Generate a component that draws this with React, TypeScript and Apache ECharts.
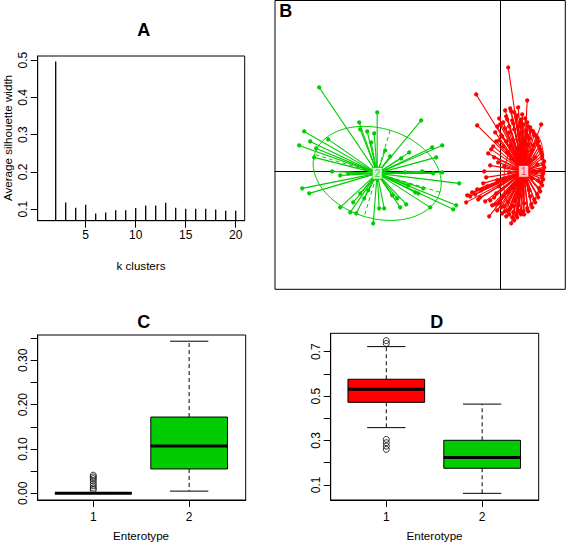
import React, { useEffect, useRef } from 'react';
import * as echarts from 'echarts';

const FONT = '"Liberation Sans", Arial, Helvetica, sans-serif';

// ---------- Panel A : silhouette ----------
const kClusters = [2, 3, 4, 5, 6, 7, 8, 9, 10, 11, 12, 13, 14, 15, 16, 17, 18, 19, 20];
const silhouette = [0.496, 0.118, 0.104, 0.112, 0.088, 0.091, 0.097, 0.097, 0.103, 0.110, 0.110, 0.117, 0.104, 0.101, 0.101, 0.101, 0.099, 0.096, 0.096];
const kTicks = [5, 10, 15, 20];
const silTicks = [0.1, 0.2, 0.3, 0.4, 0.5];

// ---------- Panel B : PCoA clusters ----------
const clusterNames = ['1', '2'];
const clusterColors = ['#FF0000', '#00CC00'];
const clusterCenters = [[0.46, 0.0], [-2.47, -0.04]];
// [cx, cy, semiMajor, semiMinor, angleDeg]
const clusterEllipses = [[0.46, 0.0, 0.84, 0.38, 81], [-2.47, -0.04, 1.31, 0.9, -16.8]];
const greenPoints = [
  [-3.63, 1.68], [-2.47, 1.18], [-2.83, 0.98], [-2.67, 0.80], [-2.53, 0.76], [-2.81, 0.84], [-1.59, 1.02],
  [-3.93, 0.80], [-3.45, 0.64], [-3.81, 0.60], [-4.03, 0.52], [-3.69, 0.46], [-3.73, 0.28], [-1.17, 0.52],
  [-1.37, 0.48], [-1.83, 0.38], [-1.99, 0.26], [-2.21, 0.30], [-3.37, 0.00], [-3.21, -0.08], [-3.05, -0.04],
  [-1.91, -0.02], [-1.57, 0.00], [-1.35, -0.04], [-1.17, -0.02], [-0.83, -0.24], [-3.97, -0.34], [-3.83, -0.44],
  [-1.85, -0.28], [-1.55, -0.34], [-1.71, -0.42], [-2.17, -0.48], [-0.89, -0.68], [-0.95, -0.76], [-1.41, -0.72],
  [-2.01, -0.72], [-1.89, -0.66], [-2.07, -0.54], [-2.33, -0.74], [-2.43, -0.74], [-2.55, -1.04], [-2.89, -0.84],
  [-3.01, -0.82], [-3.21, -0.72], [-2.95, -0.62], [-2.73, -0.54], [-2.81, -0.44], [-2.65, -0.38], [-1.65, -0.44],
  [-1.29, 0.28], [-2.59, 0.58], [-2.31, 0.42],
];
const redPoints = [
  [0.15, 2.08], [-0.49, 1.54], [0.53, 1.42], [-0.47, 0.92], [0.81, 0.94], [-0.19, 0.44], [-0.13, 0.28],
  [-0.33, 0.00], [-0.67, -0.48], [-0.69, -0.62], [-0.57, -0.42], [-0.13, -0.52], [-0.23, -0.90], [0.19, -0.74],
  [0.27, -0.98], [0.41, -0.86], [0.09, 1.22], [0.35, 1.28], [0.01, 0.72], [0.73, 0.56], [-0.61, -0.50],
  [-0.39, -0.38], [-0.27, -0.30], [-0.07, -0.18], [-0.17, -0.68], [-0.45, -0.56], [0.19, 1.26], [0.27, 1.18],
  [0.43, 1.14], [0.11, 1.10], [0.23, 1.02], [0.31, 1.08], [0.39, 0.98], [0.49, 1.06], [0.55, 0.90], [0.61, 0.82],
  [0.67, 0.74], [0.73, 0.66], [0.77, 0.50], [0.81, 0.38], [0.83, 0.26], [0.85, 0.14], [0.85, 0.02], [0.83, -0.10],
  [0.81, -0.22], [0.77, -0.34], [0.73, -0.46], [0.67, -0.56], [0.61, -0.66], [0.53, -0.74], [0.45, -0.80],
  [0.35, -0.78], [0.25, -0.82], [0.15, -0.78], [0.07, -0.70], [-0.01, -0.60], [0.05, -0.50], [0.15, -0.42],
  [0.25, -0.32], [0.37, -0.26], [0.51, -0.20], [0.63, -0.14], [0.71, -0.02], [0.73, 0.14], [0.69, 0.28],
  [0.63, 0.42], [0.55, 0.54], [0.47, 0.64], [0.37, 0.74], [0.27, 0.84], [0.17, 0.90], [0.05, 0.98], [-0.03, 1.06],
  [-0.07, 0.90], [-0.11, 0.78], [-0.03, 0.62], [0.05, 0.50], [0.13, 0.38], [0.21, 0.26], [-0.05, 0.18],
  [0.07, 0.10], [0.17, -0.02], [0.05, -0.18], [-0.03, -0.30], [-0.09, -0.44], [-0.07, -0.78], [0.03, -0.84],
  [0.11, -0.90], [0.21, -1.04], [0.33, -0.92], [0.57, 0.66], [0.65, 0.52], [0.51, 0.82], [0.79, 0.02],
  [0.75, -0.18], [0.59, -0.50], [0.47, -0.64], [0.29, -0.58], [0.39, -0.48], [0.57, -0.38], [0.25, 0.62],
  [0.35, 0.46], [0.49, 0.38], [0.59, 0.22], [0.17, 0.78],
  [0.21, 1.20], [0.33, 1.12], [0.41, 1.04], [0.13, 1.04], [0.25, 0.96], [0.35, 0.90], [0.45, 0.94], [0.53, 0.98],
  [0.59, 0.88], [0.65, 0.80], [0.71, 0.70], [0.75, 0.60], [0.79, 0.44], [0.83, 0.32], [0.87, 0.20], [0.87, 0.08],
  [0.85, -0.04], [0.85, -0.16], [0.83, -0.28], [0.79, -0.40], [0.75, -0.52], [0.69, -0.62], [0.63, -0.72],
  [0.55, -0.80], [0.47, -0.86], [0.39, -0.84], [0.31, -0.88], [0.23, -0.92], [0.17, -0.86], [0.09, -0.80],
  [0.01, -0.72], [-0.05, -0.64], [0.43, 0.78], [0.53, 0.72], [0.09, 0.86], [-0.01, 0.94], [0.03, 0.70],
  [0.11, 0.60], [0.19, 0.52], [-0.09, 0.60], [-0.15, 0.50], [-0.25, 0.36], [-0.21, 0.12], [-0.29, -0.12],
  [-0.35, -0.24], [-0.47, -0.36], [-0.51, -0.46], [-0.41, -0.52], [-0.31, -0.60], [-0.21, -0.58], [-0.11, -0.66],
  [0.15, -0.62], [0.25, -0.70], [0.35, -0.68],
];

// ---------- Panels C & D : boxplots ----------
const enterotypes = [1, 2];
// [enterotype, min, q1, median, q3, max]
const boxC = [[1, 0, 0, 0, 0.001, 0.002], [2, 0.005, 0.055, 0.107, 0.172, 0.343]];
const outliersC = [[1, 0.041], [1, 0.037], [1, 0.033], [1, 0.028], [1, 0.022], [1, 0.017], [1, 0.012], [1, 0.008]];
const boxD = [[1, 0.358, 0.472, 0.531, 0.576, 0.723], [2, 0.062, 0.175, 0.223, 0.301, 0.464]];
const outliersD = [[1, 0.75], [1, 0.737], [1, 0.305], [1, 0.29], [1, 0.275], [1, 0.26]];
const cTicks = [0, 0.05, 0.1, 0.15, 0.2, 0.25, 0.3, 0.35];
const cLabels = [0, 0.1, 0.2, 0.3];
const dTicks = [0.1, 0.2, 0.3, 0.4, 0.5, 0.6, 0.7];
const dLabels = [0.1, 0.3, 0.5, 0.7];

const black = '#000';

function axis(gridIndex: number, min: number, max: number, ticks: number[], labels: number[], fmt: (v: number) => string, extra: any = {}) {
  return {
    type: 'value',
    gridIndex,
    min,
    max,
    axisLine: { show: true, onZero: false, lineStyle: { color: black, width: 1 } },
    axisTick: { show: true, inside: false, length: 7, customValues: ticks, lineStyle: { color: black, width: 1 } },
    axisLabel: {
      show: true,
      customValues: labels,
      formatter: fmt,
      color: black,
      fontFamily: FONT,
      fontSize: 12,
      margin: extra.margin ?? 9,
      rotate: extra.rotate ?? 0,
    },
    splitLine: { show: false },
  };
}

function renderBox(colors: string[]) {
  return (params: any, api: any) => {
    const x = api.value(0);
    const mn = api.value(1), q1 = api.value(2), med = api.value(3), q3 = api.value(4), mx = api.value(5);
    const half = 0.4, cap = 0.2;
    const p = (xx: number, yy: number) => api.coord([xx, yy]);
    const tl = p(x - half, q3), br = p(x + half, q1);
    const dash = { stroke: black, lineWidth: 1, lineDash: [4, 3] };
    const solid = { stroke: black, lineWidth: 1 };
    const line = (a: number[], b: number[], style: any) => ({ type: 'line', shape: { x1: a[0], y1: a[1], x2: b[0], y2: b[1] }, style });
    return {
      type: 'group',
      children: [
        line(p(x, q3), p(x, mx), dash),
        line(p(x, q1), p(x, mn), dash),
        line(p(x - cap, mx), p(x + cap, mx), solid),
        line(p(x - cap, mn), p(x + cap, mn), solid),
        { type: 'rect', shape: { x: tl[0], y: tl[1], width: br[0] - tl[0], height: br[1] - tl[1] }, style: { fill: colors[params.dataIndex], stroke: black, lineWidth: 1 } },
        line(p(x - half, med), p(x + half, med), { stroke: black, lineWidth: 3 }),
      ],
    };
  };
}

function renderStar(center: number[], color: string) {
  return (params: any, api: any) => {
    const pt = api.coord([api.value(0), api.value(1)]);
    const c = api.coord(center);
    return {
      type: 'group',
      children: [
        { type: 'line', shape: { x1: c[0], y1: c[1], x2: pt[0], y2: pt[1] }, style: { stroke: color, lineWidth: 1.1 } },
        { type: 'circle', shape: { cx: pt[0], cy: pt[1], r: 2.1 }, style: { fill: color } },
      ],
    };
  };
}

function renderEllipse(params: any, api: any) {
  const cx = api.value(0), cy = api.value(1), a = api.value(2), b = api.value(3);
  const ang = (api.value(4) * Math.PI) / 180;
  const ca = Math.cos(ang), sa = Math.sin(ang);
  const color = clusterColors[params.dataIndex];
  const pts: number[][] = [];
  for (let i = 0; i <= 120; i++) {
    const t = (i / 120) * Math.PI * 2;
    const ex = a * Math.cos(t), ey = b * Math.sin(t);
    pts.push(api.coord([cx + ex * ca - ey * sa, cy + ex * sa + ey * ca]));
  }
  const m1 = api.coord([cx + a * ca, cy + a * sa]);
  const m2 = api.coord([cx - a * ca, cy - a * sa]);
  const n1 = api.coord([cx - b * sa, cy + b * ca]);
  const n2 = api.coord([cx + b * sa, cy - b * ca]);
  const dash = { stroke: color, lineWidth: 1, lineDash: [4, 3] };
  return {
    type: 'group',
    children: [
      { type: 'polyline', shape: { points: pts }, style: { stroke: color, fill: 'none', lineWidth: 1 } },
      { type: 'line', shape: { x1: m1[0], y1: m1[1], x2: m2[0], y2: m2[1] }, style: dash },
      { type: 'line', shape: { x1: n1[0], y1: n1[1], x2: n2[0], y2: n2[1] }, style: dash },
    ],
  };
}

function text(t: string, x: number, y: number, size: number, bold = false, rotation = 0) {
  return {
    type: 'text',
    x,
    y,
    rotation,
    style: { text: t, fill: black, font: `${bold ? 'bold ' : ''}${size}px ${FONT}`, align: 'center', verticalAlign: 'middle' },
  };
}

export default function App() {
  const ref = useRef<HTMLDivElement>(null);
  useEffect(() => {
    if (!ref.current) return;
    const chart = echarts.init(ref.current, undefined, { renderer: 'svg' });
    const gridStyle = { show: true, borderColor: black, borderWidth: 1, backgroundColor: 'transparent' };
    const hiddenAxis = (gridIndex: number, min: number, max: number) => ({
      type: 'value', gridIndex, min, max,
      axisLine: { show: true, onZero: true, lineStyle: { color: black, width: 1 } },
      axisTick: { show: false }, axisLabel: { show: false }, splitLine: { show: false },
    });
    const option: any = {
      animation: false,
      backgroundColor: '#fff',
      grid: [
        { left: 37.7, top: 56, width: 207, height: 164.7, ...gridStyle },
        { left: 275, top: 0.5, width: 290.3, height: 288.8, ...gridStyle },
        { left: 37.7, top: 335, width: 208, height: 165, ...gridStyle },
        { left: 330.7, top: 333.3, width: 208, height: 166.7, ...gridStyle },
      ],
      xAxis: [
        axis(0, 0.2, 20.9, kTicks, kTicks, (v: number) => String(v), { margin: 8 }),
        hiddenAxis(1, -4.514, 1.292),
        axis(2, 0.42, 2.59, enterotypes, enterotypes, (v: number) => String(v), { margin: 11 }),
        axis(3, 0.42, 2.59, enterotypes, enterotypes, (v: number) => String(v), { margin: 11 }),
      ],
      yAxis: [
        axis(0, 0.069, 0.511, silTicks, silTicks, (v: number) => v.toFixed(1), { rotate: 90, margin: 9 }),
        hiddenAxis(1, -2.36, 3.42),
        axis(2, -0.015, 0.357, cTicks, cLabels, (v: number) => v.toFixed(2), { rotate: 90, margin: 9 }),
        axis(3, 0.032, 0.783, dTicks, dLabels, (v: number) => v.toFixed(1), { rotate: 90, margin: 9 }),
      ],
      series: [
        {
          type: 'custom', xAxisIndex: 0, yAxisIndex: 0, clip: true,
          data: kClusters.map((k, i) => [k, silhouette[i]]),
          renderItem: (params: any, api: any) => {
            const top = api.coord([api.value(0), api.value(1)]);
            const base = api.coord([api.value(0), 0]);
            return { type: 'line', shape: { x1: base[0], y1: base[1], x2: top[0], y2: top[1] }, style: { stroke: black, lineWidth: 1.3 } };
          },
        },
        {
          type: 'custom', xAxisIndex: 1, yAxisIndex: 1, z: 2,
          data: clusterEllipses,
          renderItem: renderEllipse,
        },
        {
          type: 'custom', xAxisIndex: 1, yAxisIndex: 1, z: 3,
          data: greenPoints,
          renderItem: renderStar(clusterCenters[1], clusterColors[1]),
        },
        {
          type: 'custom', xAxisIndex: 1, yAxisIndex: 1, z: 3,
          data: redPoints,
          renderItem: renderStar(clusterCenters[0], clusterColors[0]),
        },
        {
          type: 'scatter', xAxisIndex: 1, yAxisIndex: 1, z: 5,
          symbol: 'rect', symbolSize: [10, 12],
          data: clusterCenters.map((c, i) => ({
            value: c,
            itemStyle: { color: '#fff', borderColor: clusterColors[i], borderWidth: 1 },
            label: { show: true, position: 'inside', formatter: clusterNames[i], color: clusterColors[i], fontSize: 10, fontFamily: FONT },
          })),
        },
        {
          type: 'custom', xAxisIndex: 2, yAxisIndex: 2,
          data: boxC,
          renderItem: renderBox(['#FF0000', '#00CC00']),
        },
        {
          type: 'scatter', xAxisIndex: 2, yAxisIndex: 2, symbol: 'circle', symbolSize: 6,
          itemStyle: { color: 'transparent', borderColor: black, borderWidth: 1 },
          data: outliersC,
        },
        {
          type: 'custom', xAxisIndex: 3, yAxisIndex: 3,
          data: boxD,
          renderItem: renderBox(['#FF0000', '#00CC00']),
        },
        {
          type: 'scatter', xAxisIndex: 3, yAxisIndex: 3, symbol: 'circle', symbolSize: 6,
          itemStyle: { color: 'transparent', borderColor: black, borderWidth: 1 },
          data: outliersD,
        },
      ],
      graphic: [
        text('A', 143.7, 30.3, 18, true),
        text('B', 285.8, 11, 18, true),
        text('C', 143.7, 321.7, 18, true),
        text('D', 436.7, 322, 18, true),
        text('k clusters', 141, 265, 11.6),
        text('Average silhouette width', 7, 138, 11.6, false, Math.PI / 2),
        text('Enterotype', 141, 535.5, 11.6),
        text('Enterotype', 434.5, 535.5, 11.6),
      ],
    };
    chart.setOption(option);
    return () => chart.dispose();
  }, []);
  return <div ref={ref} style={{ position: 'absolute', left: 0, top: 0, width: 566, height: 543 }} />;
}
